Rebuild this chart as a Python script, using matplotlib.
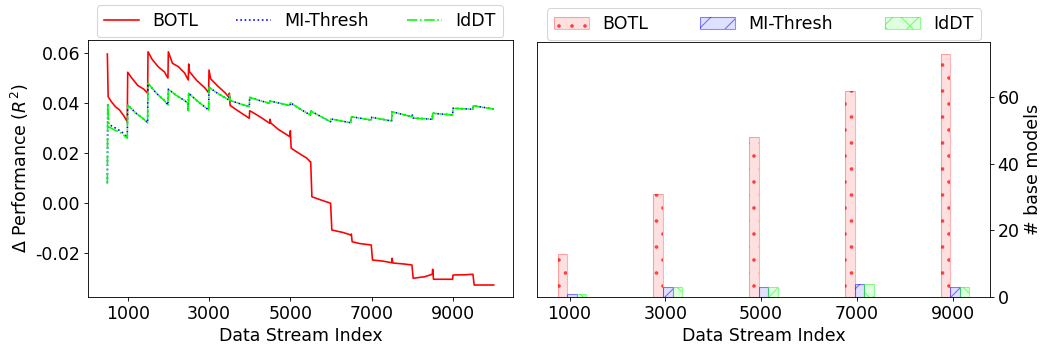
import matplotlib
matplotlib.use('Agg')
import matplotlib.pyplot as plt
import numpy as np

plt.rc('font', size=16)
plt.rc('axes', unicode_minus=False)

# performance difference over the stream (vertices of each curve)
botl_x = [500, 520, 600, 700, 800, 900, 990,
          1000, 1100, 1250, 1400, 1490,
          1500, 1600, 1750, 1900, 1990,
          2000, 2100, 2250, 2400, 2490,
          2500, 2520, 2700, 2900, 2990,
          3000, 3040, 3200, 3400, 3490,
          3500, 3520, 3700, 3990,
          4000, 4100, 4300, 4490,
          4500, 4520, 4700, 4990,
          5000, 5020, 5200, 5400, 5490,
          5500, 5530, 5700, 5990,
          6020, 6300, 6490,
          6500, 6520, 6700, 6990,
          7020, 7300, 7490,
          7500, 7520, 7800, 7990,
          8020, 8300, 8490,
          8500, 8520, 8990,
          9000, 9300, 9490,
          9520, 10000]
botl_y = [0.0596, 0.0425, 0.0405, 0.0385, 0.0372, 0.0350, 0.0325,
          0.0523, 0.0500, 0.0470, 0.0455, 0.0439,
          0.0605, 0.0575, 0.0545, 0.0525, 0.0500,
          0.0605, 0.0559, 0.0545, 0.0520, 0.0492,
          0.0556, 0.0525, 0.0490, 0.0460, 0.0441,
          0.0532, 0.0497, 0.0470, 0.0440, 0.0423,
          0.0439, 0.0390, 0.0370, 0.0339,
          0.0369, 0.0360, 0.0340, 0.0319,
          0.0335, 0.0320, 0.0295, 0.0265,
          0.0289, 0.0219, 0.0200, 0.0180, 0.0165,
          0.0165, 0.0025, 0.0015, -0.0001,
          -0.0108, -0.0118, -0.0128,
          -0.0124, -0.0155, -0.0162, -0.0168,
          -0.0228, -0.0233, -0.0239,
          -0.0221, -0.0240, -0.0244, -0.0248,
          -0.0301, -0.0295, -0.0285,
          -0.0265, -0.0305, -0.0305,
          -0.0288, -0.0287, -0.0285,
          -0.0328, -0.0328]

iddt_x = [500, 510, 530, 700, 850, 990,
          1000, 1200, 1400, 1490,
          1500, 1700, 1900, 1990,
          2000, 2200, 2400, 2480, 2490,
          2500, 2700, 2990,
          3000, 3200, 3490,
          3500, 3520, 3990,
          4000, 4200, 4490,
          4500, 4990,
          5000, 5200, 5490,
          5500, 5990,
          6000, 6490,
          6500, 6990,
          7000, 7490,
          7500, 7990,
          8000, 8020, 8490,
          8500, 8990,
          9000, 9490,
          9500, 10000]
iddt_y = [0.0079, 0.0399, 0.0305, 0.0290, 0.0279, 0.0259,
          0.0392, 0.0360, 0.0335, 0.0321,
          0.0479, 0.0440, 0.0410, 0.0392,
          0.0455, 0.0430, 0.0410, 0.0399, 0.0369,
          0.0439, 0.0410, 0.0372,
          0.0463, 0.0440, 0.0412,
          0.0432, 0.0410, 0.0385,
          0.0423, 0.0412, 0.0399,
          0.0408, 0.0390,
          0.0401, 0.0380, 0.0352,
          0.0368, 0.0325,
          0.0336, 0.0321,
          0.0345, 0.0332,
          0.0343, 0.0328,
          0.0365, 0.0345,
          0.0352, 0.0340, 0.0335,
          0.0359, 0.0352,
          0.0379, 0.0375,
          0.0389, 0.0376]

mi_x = iddt_x
mi_y = [0.0079, 0.0399, 0.0315, 0.0300, 0.0285, 0.0262] + iddt_y[6:]

# number of base models kept at each checkpoint
checkpoints = [1000, 3000, 5000, 7000, 9000]
n_botl = [13, 31, 48, 62, 73]
n_mi = [1, 3, 3, 4, 3]
n_iddt = [1, 3, 3, 4, 3]

fig = plt.figure(figsize=(1048 / 78, 350 / 78), dpi=78)
ax1 = fig.add_axes([0.084, 0.1514, 0.4055, 0.7343])
ax2 = fig.add_axes([0.5124, 0.1514, 0.4323, 0.7286])

ax1.plot(botl_x, botl_y, color='r', linestyle='-', label='BOTL')
ax1.plot(mi_x, mi_y, color='b', linestyle=':', label='MI-Thresh')
ax1.plot(iddt_x, iddt_y, color='lime', linestyle='-.', label='IdDT')
ax1.set_xticks([1000, 3000, 5000, 7000, 9000])
ax1.set_yticks([-0.02, 0.0, 0.02, 0.04, 0.06])
ax1.set_ylim(-0.0376, 0.0652)
ax1.set_xlabel('Data Stream Index')
ax1.set_ylabel(r'$\Delta$ Performance ($R^2$)')
ax1.legend(ncol=3, mode='expand', loc='lower left', borderaxespad=0,
           bbox_to_anchor=(97 / 1048, 1 - 37 / 350, 406 / 1048, 0.05),
           bbox_transform=fig.transFigure)

# hatch drawn darker than the outline: fill+hatch layer, then outline layer
w = 200
cp = np.array(checkpoints)
specs = [(cp - 150, n_botl, (1, 0, 0), '.', 0.6, 0.3, 'BOTL'),
         (cp + 50, n_mi, (0, 0, 1), '/', 0.5, 0.45, 'MI-Thresh'),
         (cp + 250, n_iddt, (0, 1, 0), 'x', 0.5, 0.45, 'IdDT')]
handles, labels = [], []
for pos, vals, c, hatch, a_hatch, a_edge, name in specs:
    b1 = ax2.bar(pos, vals, width=w, facecolor=c + (0.12,),
                 edgecolor=c + (a_hatch,), hatch=hatch, linewidth=0)
    b2 = ax2.bar(pos, vals, width=w, fill=False, edgecolor=c + (a_edge,))
    handles.append((b1, b2))
    labels.append(name)
ax2.set_xticks(checkpoints)
ax2.set_yticks([0, 20, 40, 60])
ax2.yaxis.tick_right()
ax2.yaxis.set_label_position('right')
ax2.set_xlabel('Data Stream Index')
ax2.set_ylabel('# base models')
ax2.legend(handles, labels, ncol=3, mode='expand', loc='lower left',
           borderaxespad=0,
           bbox_to_anchor=(547 / 1048, 1 - 40 / 350, 434 / 1048, 0.05),
           bbox_transform=fig.transFigure)

plt.savefig('out.png', dpi=78)
